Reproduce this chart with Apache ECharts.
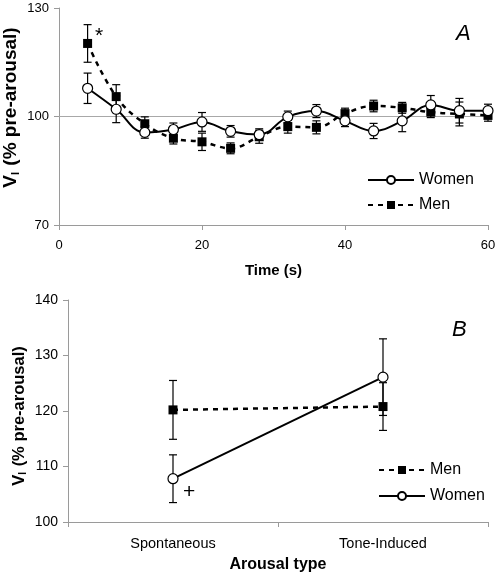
<!DOCTYPE html>
<html>
<head>
<meta charset="utf-8">
<script src="https://cdn.jsdelivr.net/npm/echarts@6/dist/echarts.min.js"></script>
<style>html,body{margin:0;padding:0;background:#fff}#c{width:496px;height:575px}</style>
</head>
<body>
<div id="c"></div>
<script>
// Panel A: time course
var timeSec = [4, 8, 12, 16, 20, 24, 28, 32, 36, 40, 44, 48, 52, 56, 60];
var womenA = [107.8, 102.0, 95.6, 96.4, 98.5, 95.9, 95.0, 99.9, 101.5, 98.8, 96.0, 98.8, 103.2, 101.6, 101.6];
var womenAErr = [4.2, 3.7, 1.6, 1.8, 2.6, 1.6, 1.6, 1.6, 1.8, 1.6, 2.1, 3.0, 2.6, 3.4, 1.8];
var menA = [120.2, 105.5, 98.0, 94.0, 93.0, 91.2, 94.4, 97.2, 97.0, 100.8, 102.9, 102.4, 101.2, 100.7, 100.3];
var menAErr = [5.2, 3.3, 1.9, 1.6, 2.4, 1.5, 1.8, 1.8, 1.8, 1.5, 1.6, 1.5, 1.5, 3.3, 1.6];
var yTicksA = [70, 100, 130];
var xTicksA = [0, 20, 40, 60];

// Panel B: arousal type
var arousalTypes = ['Spontaneous', 'Tone-Induced'];
var menB = [120.2, 120.8];
var menBErr = [5.3, 4.3];
var womenB = [107.8, 126.1];
var womenBErr = [4.3, 6.9];
var yTicksB = [100, 110, 120, 130, 140];

var FONT = 'Liberation Sans, Arial, sans-serif';
var AXIS_GREY = '#9a9a9a';

function errData(xs, ys, es) {
  return xs.map(function (x, i) { return [x, ys[i] - es[i], ys[i] + es[i]]; });
}
function errRender(params, api) {
  var lo = api.coord([api.value(0), api.value(1)]);
  var hi = api.coord([api.value(0), api.value(2)]);
  var w = 4;
  var st = { stroke: '#000', lineWidth: 1.2 };
  return {
    type: 'group',
    children: [
      { type: 'line', shape: { x1: lo[0], y1: lo[1], x2: hi[0], y2: hi[1] }, style: st },
      { type: 'line', shape: { x1: lo[0] - w, y1: lo[1], x2: lo[0] + w, y2: lo[1] }, style: st },
      { type: 'line', shape: { x1: hi[0] - w, y1: hi[1], x2: hi[0] + w, y2: hi[1] }, style: st }
    ]
  };
}

var yNameText = '{v|V}{s|I}{v| (% pre-arousal)}';
function yRich(fs, sub, subPad) {
  return {
    v: { fontFamily: FONT, fontWeight: 'bold', fontSize: fs, color: '#000' },
    s: { fontFamily: FONT, fontWeight: 'bold', fontSize: sub, color: '#000', padding: [subPad, 1, 0, 0] }
  };
}

function lbl(fs, extra) {
  return Object.assign({ fontFamily: FONT, fontSize: fs, color: '#000' }, extra);
}

var womenLine = { color: '#000', width: 2, type: 'solid' };
var menLine = { color: '#000', width: 2.5, type: [5, 5] };

var chart = echarts.init(document.getElementById('c'), null, { renderer: 'canvas' });
chart.setOption({
  animation: false,
  backgroundColor: '#fff',
  grid: [
    { left: 59, width: 429, top: 8, height: 217, containLabel: false, outerBoundsMode: 'none' },
    { left: 68, width: 420, top: 300, height: 222, containLabel: false, outerBoundsMode: 'none' }
  ],
  xAxis: [
    {
      gridIndex: 0, type: 'value', min: 0, max: 60, interval: 20,
      name: 'Time (s)', nameLocation: 'middle', nameGap: 38, nameMoveOverlap: false,
      nameTextStyle: { fontFamily: FONT, fontWeight: 'bold', fontSize: 15, color: '#000' },
      axisLine: { lineStyle: { color: AXIS_GREY, width: 1 } },
      axisTick: { show: true, length: 5, lineStyle: { color: AXIS_GREY } },
      axisLabel: lbl(13, { margin: 14, formatter: function (v) { return xTicksA.indexOf(v) >= 0 ? String(v) : ''; } }),
      splitLine: { show: false }
    },
    {
      gridIndex: 1, type: 'category', data: arousalTypes, boundaryGap: true,
      name: 'Arousal type', nameLocation: 'middle', nameGap: 35, nameMoveOverlap: false,
      nameTextStyle: { fontFamily: FONT, fontWeight: 'bold', fontSize: 16, color: '#000' },
      axisLine: { lineStyle: { color: AXIS_GREY, width: 1 } },
      axisTick: { show: true, length: 5, alignWithLabel: false, lineStyle: { color: AXIS_GREY } },
      axisLabel: lbl(14.5, { margin: 14 }),
      splitLine: { show: false }
    }
  ],
  yAxis: [
    {
      gridIndex: 0, type: 'value', min: 70, max: 130, interval: 30,
      name: yNameText, nameLocation: 'middle', nameGap: 38, nameRotate: 90, nameMoveOverlap: false,
      nameTextStyle: { rich: yRich(19, 11, 9), padding: [0, 0, 0, 18] },
      axisLine: { show: true, lineStyle: { color: AXIS_GREY, width: 1 } },
      axisTick: { show: true, length: 5, lineStyle: { color: AXIS_GREY } },
      axisLabel: lbl(13, { margin: 10, formatter: function (v) { return yTicksA.indexOf(v) >= 0 ? String(v) : ''; } }),
      splitLine: { show: false }
    },
    {
      gridIndex: 1, type: 'value', min: 100, max: 140, interval: 10,
      name: yNameText, nameLocation: 'middle', nameGap: 40, nameRotate: 90, nameMoveOverlap: false,
      nameTextStyle: { rich: yRich(16.5, 10, 8), padding: [0, 10, 0, 0] },
      axisLine: { show: true, lineStyle: { color: AXIS_GREY, width: 1 } },
      axisTick: { show: true, length: 5, lineStyle: { color: AXIS_GREY } },
      axisLabel: lbl(14, { margin: 10, formatter: function (v) { return yTicksB.indexOf(v) >= 0 ? String(v) : ''; } }),
      splitLine: { show: false }
    }
  ],
  legend: [
    {
      data: ['Women', 'Men'], orient: 'vertical', left: 362, top: 167, itemGap: 9,
      itemWidth: 46, itemHeight: 10, selectedMode: false,
      textStyle: { fontFamily: FONT, fontSize: 16, color: '#000' }
    },
    {
      data: ['Men', 'Women'], orient: 'vertical', left: 373, top: 457, itemGap: 10,
      itemWidth: 46, itemHeight: 10, selectedMode: false,
      textStyle: { fontFamily: FONT, fontSize: 16, color: '#000' }
    }
  ],
  series: [
    // Panel A error bars
    { type: 'custom', name: 'errWA', xAxisIndex: 0, yAxisIndex: 0, renderItem: errRender, data: errData(timeSec, womenA, womenAErr), z: 2, silent: true },
    { type: 'custom', name: 'errMA', xAxisIndex: 0, yAxisIndex: 0, renderItem: errRender, data: errData(timeSec, menA, menAErr), z: 2, silent: true },
    {
      type: 'line', name: 'Men', xAxisIndex: 0, yAxisIndex: 0, smooth: 0.4,
      data: timeSec.map(function (t, i) { return [t, menA[i]]; }),
      lineStyle: menLine, symbol: 'rect', symbolSize: 9,
      itemStyle: { color: '#000', borderColor: '#000', borderWidth: 0 }, z: 3,
      markLine: {
        silent: true, symbol: 'none', label: { show: false },
        lineStyle: { color: '#a8a8a8', width: 1, type: 'solid' },
        data: [{ yAxis: 100 }], z: 1
      }
    },
    {
      type: 'line', name: 'Women', xAxisIndex: 0, yAxisIndex: 0, smooth: 0.4,
      data: timeSec.map(function (t, i) { return [t, womenA[i]]; }),
      lineStyle: womenLine, symbol: 'circle', symbolSize: 10,
      itemStyle: { color: '#fff', borderColor: '#000', borderWidth: 1.2 }, z: 4
    },
    // Panel B
    { type: 'custom', name: 'errMB', xAxisIndex: 1, yAxisIndex: 1, renderItem: errRender, data: errData([0, 1], menB, menBErr), z: 2, silent: true },
    { type: 'custom', name: 'errWB', xAxisIndex: 1, yAxisIndex: 1, renderItem: errRender, data: errData([0, 1], womenB, womenBErr), z: 2, silent: true },
    {
      type: 'line', name: 'Men', xAxisIndex: 1, yAxisIndex: 1,
      data: menB, lineStyle: menLine, symbol: 'rect', symbolSize: 9,
      itemStyle: { color: '#000', borderColor: '#000', borderWidth: 0 }, z: 3
    },
    {
      type: 'line', name: 'Women', xAxisIndex: 1, yAxisIndex: 1,
      data: womenB, lineStyle: womenLine, symbol: 'circle', symbolSize: 10,
      itemStyle: { color: '#fff', borderColor: '#000', borderWidth: 1.2 }, z: 4
    }
  ],
  graphic: [
    { type: 'text', left: 95, top: 26, style: { text: '*', font: '21px ' + FONT, fill: '#000' } },
    { type: 'text', left: 456, top: 23, style: { text: 'A', font: 'italic 22px ' + FONT, fill: '#000' } },
    { type: 'text', left: 452, top: 319, style: { text: 'B', font: 'italic 22px ' + FONT, fill: '#000' } },
    { type: 'text', left: 183, top: 482, style: { text: '+', font: '21px ' + FONT, fill: '#000' } }
  ]
});
</script>
</body>
</html>
